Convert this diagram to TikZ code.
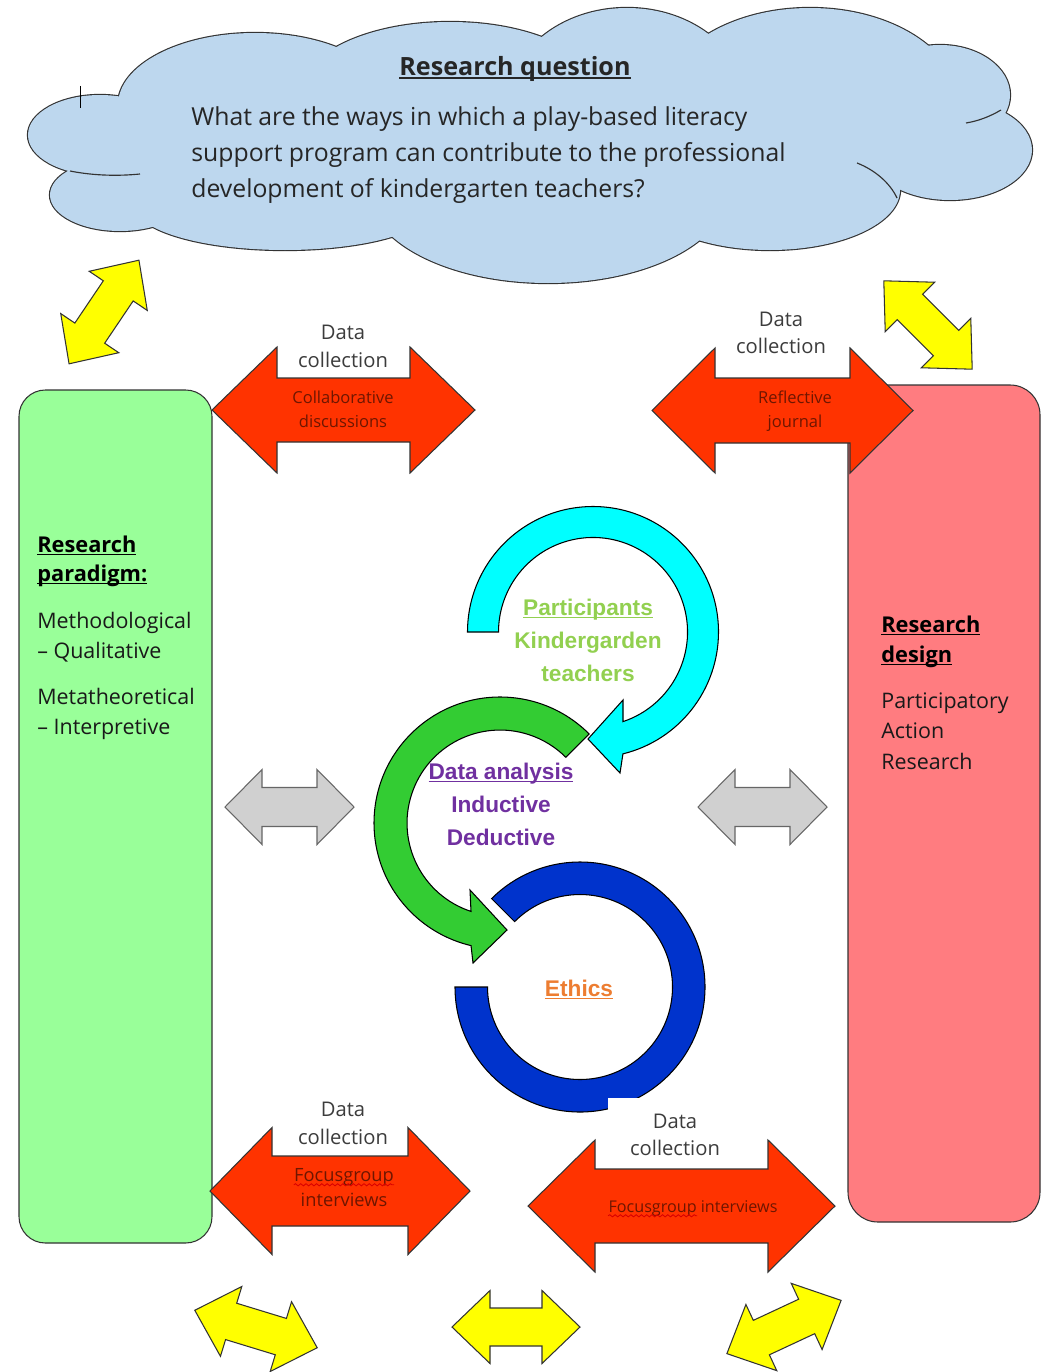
\documentclass[tikz,border=0pt]{standalone}
\usepackage{fontspec}
\setmainfont{Open Sans}
\newfontfamily\arialfont{Liberation Sans}
\usetikzlibrary{decorations.pathmorphing}

\definecolor{cloudfill}{HTML}{BDD7EE}
\definecolor{paradigmgreen}{HTML}{99FF99}
\definecolor{designpink}{HTML}{FF7C80}
\definecolor{arrowred}{HTML}{FF3300}
\definecolor{arrowyellow}{HTML}{FFFF00}
\definecolor{arrowgray}{HTML}{D0D0D0}
\definecolor{ringcyan}{HTML}{00FFFF}
\definecolor{ringgreen}{HTML}{33CC33}
\definecolor{ringblue}{HTML}{0033CC}
\definecolor{textdark}{HTML}{262626}
\definecolor{arrowtext}{HTML}{6E1600}
\definecolor{partgreen}{HTML}{92D050}
\definecolor{analysispurple}{HTML}{7030A0}
\definecolor{ethicsorange}{HTML}{ED7D31}
\definecolor{outline}{HTML}{333333}

\newcommand\setfs[2]{\fontsize{#1}{#2}\selectfont}
% underline at a fixed depth below the baseline
\newcommand\ulword[1]{\setbox0\hbox{#1}\rlap{\rule[-0.14em]{\wd0}{0.06em}}\box0}

% double-headed block arrow: style, centre, angle, length, head length, head width, shaft width
\newcommand\blockarrow[7]{%
  \draw[#1, shift={(#2)}, rotate=#3]
    (-#4/2,0) -- (-#4/2+#5,-#6/2) -- (-#4/2+#5,-#7/2) -- (#4/2-#5,-#7/2)
    -- (#4/2-#5,-#6/2) -- (#4/2,0) -- (#4/2-#5,#6/2) -- (#4/2-#5,#7/2)
    -- (-#4/2+#5,#7/2) -- (-#4/2+#5,#6/2) -- cycle;}

% lobes of the cloud: centre x / centre y / x radius / y radius
\def\cloudlobes{255/105/137/72, 450/94/150/72, 627/106/120/98, 810/106/150/98,
  940/95/70/50, 950/150/82/50, 770/190/130/60, 548/190/180/93, 285/206/150/44,
  120/195/70/36, 100/135/72/40, 530/140/400/90}

\tikzset{
  outlined/.style={draw=outline, line width=0.6pt, line join=miter},
  redarrow/.style={outlined, fill=arrowred},
  yellowarrow/.style={outlined, fill=arrowyellow},
  grayarrow/.style={draw=black!60, line width=0.6pt, line join=miter, fill=arrowgray},
  ringshape/.style={draw=black, line width=0.6pt, line join=miter},
  cloudcrease/.style={draw=outline, line width=0.65pt},
  line/.style={inner sep=0pt, text height=0.72em, text depth=0.22em, yshift=-2.2pt},
  cloudtext/.style={line, anchor=west, text=textdark, font=\setfs{14.1}{16}},
  dctext/.style={line, text=textdark!90, font=\setfs{11.5}{13}},
  arrowlabel/.style={line, text=arrowtext, font=\setfs{9.4}{11}},
  boxhead/.style={line, anchor=west, text=black, font=\bfseries\setfs{12.4}{14}},
  boxtext/.style={line, anchor=west, text=black!90, font=\setfs{12.2}{14}},
  ringtext/.style={line, font=\arialfont\bfseries\setfs{12.9}{15}},
  spellmark/.style={draw=red!85!black, line width=0.5pt, decorate,
    decoration={snake, amplitude=0.6pt, segment length=3pt}},
}

\begin{document}
\begin{tikzpicture}[x=0.02cm, y=-0.02cm]
\useasboundingbox (0,0) rectangle (1041,1372);
\fill[white] (0,0) rectangle (1041,1372);

% ---- cloud: outline of the union of lobes, then the fill
\foreach \cx/\cy/\rx/\ry in \cloudlobes
  \draw[draw=outline, line width=1.3pt] (\cx,\cy) ellipse [x radius=\rx, y radius=\ry];
\foreach \cx/\cy/\rx/\ry in \cloudlobes
  \fill[cloudfill] (\cx,\cy) ellipse [x radius=\rx, y radius=\ry];
\draw[cloudcrease] (70,171) .. controls (95,176) and (120,176) .. (140,174);
\draw[cloudcrease] (1001,110) .. controls (989,117) and (978,121) .. (966,123);
\draw[cloudcrease] (857,163) .. controls (875,170) and (890,183) .. (897,198);
\draw[line width=0.5pt] (80,86) -- (80,108);

% ---- side panels
\draw[outlined, fill=paradigmgreen, rounded corners=15pt] (19,390) rectangle (212,1243);
\draw[outlined, fill=designpink, rounded corners=17pt] (848,385) rectangle (1040,1222);

% ---- yellow links
\blockarrow{yellowarrow}{104,312}{56}{125}{37}{70}{36}
\blockarrow{yellowarrow}{928,325}{-45}{125}{37}{70}{36}
\blockarrow{yellowarrow}{256,1329}{-17}{128}{38}{73}{38}
\blockarrow{yellowarrow}{516,1327}{0}{128}{38}{73}{38}
\blockarrow{yellowarrow}{784,1327}{25}{126}{38}{73}{38}

% ---- data collection arrows
\blockarrow{redarrow}{343.5,410}{0}{263}{65}{126}{64}
\blockarrow{redarrow}{782.5,410.5}{0}{261}{63}{125}{65}
\blockarrow{redarrow}{340,1191}{0}{260}{62}{127}{70}
\blockarrow{redarrow}{681.5,1206}{0}{307}{67}{132}{74}

% ---- grey links to the panels
\blockarrow{grayarrow}{289.5,807}{0}{129}{37}{75}{39}
\blockarrow{grayarrow}{762.5,807}{0}{129}{37}{75}{39}

% ---- cycle of block arcs
\draw[ringshape, fill=ringblue] (455,987) arc[start angle=180, end angle=-135, radius=125]
  -- (514.6,921.6) arc[start angle=-135, end angle=180, radius=92.5] -- cycle;
\draw[ringshape, fill=ringgreen] (589.1,733.9) arc[start angle=-45, end angle=-256.7, radius=126]
  -- (473,963) -- (507,930) -- (470,890) -- (471,911.4)
  arc[start angle=-251.8, end angle=-45, radius=93] -- cycle;
\draw[ringshape, fill=ringcyan] (467.5,632) arc[start angle=180, end angle=436.2, radius=125.5]
  -- (620,773) -- (588,739) -- (623,700) -- (623,721.6)
  arc[start angle=431.5, end angle=180, radius=94.5] -- cycle;

% label panel behind the lower right caption
\fill[white] (608,1098) rectangle (742,1165);

% ---- texts
\node[line, text=textdark, font=\bfseries\setfs{14.3}{16}] (rqtitle) at (515,67) {\ulword{Research question}};
\node[cloudtext] (rqa) at (191,117) {What are the ways in which a play-based literacy};
\node[cloudtext] (rqb) at (191,153) {support program can contribute to the professional};
\node[cloudtext] (rqc) at (191,189) {development of kindergarten teachers?};

\node[dctext] (dctla) at (343,331) {Data};
\node[dctext] (dctlb) at (343,359) {collection};
\node[dctext] (dctra) at (781,318) {Data};
\node[dctext] (dctrb) at (781,345) {collection};
\node[dctext] (dcbla) at (343,1108) {Data};
\node[dctext] (dcblb) at (343,1136) {collection};
\node[dctext] (dcbra) at (675,1120) {Data};
\node[dctext] (dcbrb) at (675,1147) {collection};

\node[arrowlabel] (cola) at (343,395) {Collaborative};
\node[arrowlabel] (colb) at (343,419) {discussions};
\node[arrowlabel] (refa) at (795,395) {Reflective};
\node[arrowlabel] (refb) at (795,419) {journal};
\node[arrowlabel, font=\setfs{10.4}{12}] (fga) at (344,1173) {Focusgroup};
\node[arrowlabel, font=\setfs{10.4}{12}] (fgb) at (344,1198) {interviews};
\node[arrowlabel, font=\setfs{9.2}{11}] (fgc) at (693,1204) {Focusgroup interviews};
\draw[spellmark] ([yshift=-2pt]fga.base west) -- ([yshift=-2pt]fga.base east);
\draw[spellmark] ([yshift=-2pt]fgc.base west) -- ++(89,0);

\node[boxhead] (rpa) at (37,544) {\ulword{Research}};
\node[boxhead] (rpb) at (37,573) {\ulword{paradigm:}};
\node[boxtext] (rpc) at (37,620) {Methodological};
\node[boxtext] (rpd) at (37,650) {– Qualitative};
\node[boxtext] (rpe) at (37,696) {Metatheoretical};
\node[boxtext] (rpf) at (37,726) {– Interpretive};

\node[boxhead] (rda) at (881,624) {\ulword{Research}};
\node[boxhead] (rdb) at (881,654) {\ulword{design}};
\node[boxtext] (rdc) at (881,700) {Participatory};
\node[boxtext] (rdd) at (881,730) {Action};
\node[boxtext] (rde) at (881,761) {Research};

\node[ringtext, text=partgreen] (pta) at (588,607) {\ulword{Participants}};
\node[ringtext, text=partgreen] (ptb) at (588,640) {Kindergarden};
\node[ringtext, text=partgreen] (ptc) at (588,673) {teachers};
\node[ringtext, text=analysispurple] (daa) at (501,771) {\ulword{Data analysis}};
\node[ringtext, text=analysispurple] (dab) at (501,804) {Inductive};
\node[ringtext, text=analysispurple] (dac) at (501,837) {Deductive};
\node[ringtext, text=ethicsorange] (eth) at (579,988) {\ulword{Ethics}};
\end{tikzpicture}
\end{document}
